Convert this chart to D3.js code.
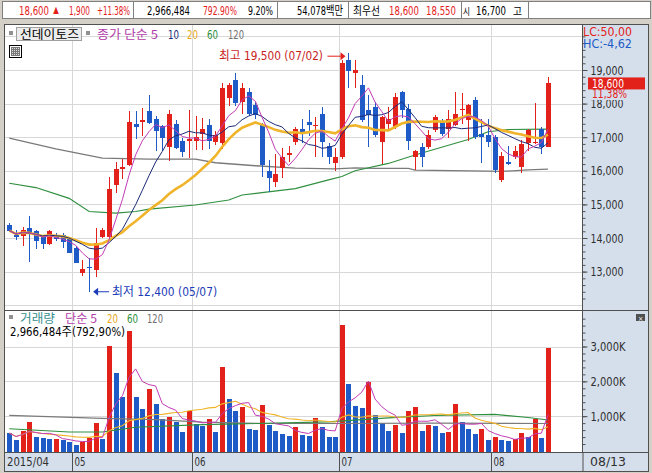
<!DOCTYPE html>
<html><head><meta charset="utf-8">
<script src="https://cdn.jsdelivr.net/npm/d3@7"></script>
<style>
body{margin:0;background:#d4d0c8;overflow:hidden;}
svg{display:block;}
text{font-family:"Liberation Sans Narrow","DejaVu Sans Condensed","Noto Sans CJK KR",sans-serif;}
</style></head><body>
<svg id="c" width="652" height="473"></svg>
<script>
// ---------- data ----------
const dates = ["04/17","04/20","04/21","04/22","04/23","04/24","04/27","04/28","04/29","04/30",
"05/04","05/06","05/07","05/08","05/11","05/12","05/13","05/14","05/15","05/18","05/19","05/20","05/21","05/22","05/26","05/27","05/28","05/29",
"06/01","06/02","06/03","06/04","06/05","06/08","06/09","06/10","06/11","06/12","06/15","06/16","06/17","06/18","06/19","06/22","06/23","06/24","06/25","06/26","06/29","06/30",
"07/01","07/02","07/03","07/06","07/07","07/08","07/09","07/10","07/13","07/14","07/15","07/16","07/17","07/20","07/21","07/22","07/23","07/24","07/27","07/28","07/29","07/30","07/31",
"08/03","08/04","08/05","08/06","08/07","08/10","08/11","08/12","08/13"];
const opens  = [14400,14100,14070,14300,14210,14050,13830,14090,14090,13960,13690,12950,13150,13050,14040,14040,15590,16040,16170,17390,17440,17770,17540,17330,16700,17390,16890,16900,16890,17100,17360,16870,16820,18160,18700,18050,18350,17950,17350,15990,15680,16070,16480,16860,17230,17460,17350,17690,16740,16240,16420,19300,18900,18550,17810,17890,16870,17380,17300,18350,17830,16420,16720,16700,17220,17460,17230,17370,17800,17520,18110,17090,17070,17000,15730,16260,16420,16120,16830,16830,17230,16700];
const highs  = [14450,14240,14320,14650,14240,14090,14240,14160,14140,14020,13760,13340,13390,14290,14290,15830,16250,16350,17770,17780,17880,18250,17640,17360,17810,17510,16970,17800,17640,17560,17530,17170,18620,18620,18920,18600,18450,18060,17430,16330,16490,16670,16740,17300,17530,17810,17610,17900,16820,16670,19300,19500,19300,18850,18260,18050,17620,17910,18320,18370,18000,16610,16820,17220,17660,17530,17800,18350,18330,18000,18210,17550,17530,17060,16570,16740,16740,16910,17250,18030,17310,18800];
const lows   = [14170,13940,13760,13280,13660,13680,13790,13920,13690,13540,13250,12870,12400,12830,14000,13990,15350,15750,16150,16950,17050,17380,16600,16580,16280,16640,16400,16380,16620,16620,16640,16770,16640,17930,17930,17700,17630,17550,15830,15380,15530,15780,16270,16780,16820,17040,16420,16420,16200,15980,16350,18450,18450,17460,16700,17000,16200,17220,17250,17560,16620,16020,16100,16650,17150,17050,16980,17320,17380,16880,16950,16240,16700,15940,15680,16180,16360,15940,16600,16800,16500,16700];
const closes = [14220,14020,14240,14130,13920,13830,14210,13980,13880,13560,13270,13080,13110,13840,14240,15450,16060,16120,17460,17290,17520,17430,17195,16990,17690,16670,16570,16950,17020,17240,16890,17070,18450,18550,18010,18450,17680,17660,16170,15780,15900,16410,16520,17230,17100,17360,17370,16870,16400,16420,19200,18980,19000,17500,17660,17070,17590,17530,18200,17800,16890,16600,16420,17070,17590,17100,17530,17690,17830,17960,17000,17000,16870,16020,16440,16190,16590,16800,17220,16870,16700,18600];
const volumes = [517,314,584,836,401,372,345,352,314,256,179,256,372,797,343,3009,2227,1550,3444,1550,1212,1770,1360,910,990,845,550,1155,768,725,910,550,2400,1502,1150,1250,645,600,1330,758,585,488,440,681,469,440,942,700,411,392,3620,1910,1300,1232,1978,1034,816,574,748,525,1155,1271,574,748,730,507,536,1335,835,642,497,642,322,405,318,284,332,516,400,932,381,2966];
// long moving averages: [candle index, value]
const ma60Price  = [[0,15630],[4,15500],[9,15180],[12,14790],[16,14740],[19,14790],[21,14860],[28,14980],[33,15130],[35,15280],[38,15350],[43,15470],[48,15730],[50,15830],[52,16000],[57,16220],[61,16470],[65,16700],[69,16930],[72,17160],[75,17230],[81,17240]];
const ma120Price = [[0,16970],[7,16650],[14,16380],[21,16350],[28,16350],[31,16240],[37,16150],[43,16080],[49,16060],[52,16090],[55,16070],[60,16070],[61,16020],[72,15990],[74,15980],[78,16030],[81,16050]];
const ma60Vol  = [[0,640],[9,546],[14,546],[19,680],[29,758],[48,836],[57,952],[64,1020],[73,1050],[78,960],[81,890]];
const ma120Vol = [[0,1020],[14,935],[22,900],[29,830],[38,790],[48,790],[64,800],[81,790]];
const priceTicks = [13000,14000,15000,16000,17000,18000,19000];
const priceGrid = [12000,13000,14000,15000,16000,17000,18000,19000,20000];
const volTicks = [1000,2000,3000];
const monthStarts = [{i:10,label:"05"},{i:28,label:"06"},{i:50,label:"07"},{i:73,label:"08"}];

const RED="#e3211b", BLUE="#1e5bc6";
const KR="'Noto Sans CJK KR',sans-serif";
const svg = d3.select("#c");
function T(g,xx,yy,t,c,w,fs,ff){const e=g.append("text").attr("x",xx).attr("y",yy).attr("fill",c).attr("font-size",fs||12).text(t);
  if(ff) e.attr("font-family",ff);
  if(w){e.attr("textLength",w).attr("lengthAdjust","spacingAndGlyphs");} return e;}
// one text element holding several positioned runs
function M(g,parts){const e=g.append("text");
  parts.forEach(p=>{const s=e.append("tspan").attr("x",p[0]).attr("y",p[1]).attr("fill",p[3]).attr("font-size",p[5]||12).text(p[2]);
    if(p[6]) s.attr("font-family",p[6]);
    if(p[4]) s.attr("textLength",p[4]).attr("lengthAdjust","spacingAndGlyphs");});
  return e;}

// ---------- frame ----------
svg.append("rect").attr("width",652).attr("height",473).attr("fill","#d4d0c8");
const hdr = svg.append("g");
hdr.append("rect").attr("x",2.5).attr("y",1.5).attr("width",648).attr("height",17).attr("fill","#fff").attr("stroke","#808080");
[133,277,348,461].forEach(xx=>hdr.append("line").attr("x1",xx+.5).attr("x2",xx+.5).attr("y1",1).attr("y2",19).attr("stroke","#808080"));
hdr.append("line").attr("x1",528.5).attr("x2",528.5).attr("y1",1).attr("y2",19).attr("stroke","#808080");
const HY=14.5, HF=12.5;
M(hdr,[[19,HY,"18,600",RED,30,HF],[53,HY-0.5,"▲",RED,6,9,KR],[69,HY,"1,900",RED,21,HF],[97,HY,"+11.38%",RED,33,HF]]);
M(hdr,[[147,HY,"2,966,484","#000",43,HF],[203,HY,"792.90%",RED,34,HF],[248,HY,"9.20%","#000",25,HF]]);
M(hdr,[[297,HY,"54,078백만","#000",46,HF]]);
M(hdr,[[353,HY,"최우선","#000",27,11,KR],[389,HY,"18,600",RED,30,HF],[426,HY,"18,550",RED,30,HF]]);
M(hdr,[[463,HY,"시","#000",7,10,KR],[476,HY,"16,700","#000",30,HF],[513,HY,"고","#000",9,10,KR]]);

svg.append("rect").attr("x",5).attr("y",25).attr("width",577).attr("height",427).attr("fill","#fff");
svg.append("rect").attr("x",582).attr("y",25).attr("width",66).attr("height",427).attr("fill","#d5dfec");
svg.append("rect").attr("x",5).attr("y",452).attr("width",643).attr("height",19).attr("fill","#d5dfec");

// ---------- scales ----------
const x = d3.scaleLinear().domain([0,81]).range([9.3,548]);
const yP = d3.scaleLinear().domain([12000,20000]).range([305.2,36.4]);
const yV = d3.scaleLinear().domain([0,3000]).range([451,346.5]);
const step = x(1)-x(0);

const grid = svg.append("g").attr("stroke","#d8d8d8").attr("shape-rendering","crispEdges");
priceGrid.forEach(v=>grid.append("line").attr("x1",5).attr("x2",582).attr("y1",Math.round(yP(v))+.5).attr("y2",Math.round(yP(v))+.5));
volTicks.forEach(v=>grid.append("line").attr("x1",5).attr("x2",582).attr("y1",Math.round(yV(v))+.5).attr("y2",Math.round(yV(v))+.5));
monthStarts.forEach(m=>{const xx=Math.round(x(m.i)-step/2)+.5;grid.append("line").attr("x1",xx).attr("x2",xx).attr("y1",25).attr("y2",452);});

function sma(arr,n){return arr.map((d,i)=>d3.mean(arr.slice(Math.max(0,i-n+1),i+1)));}
const lineP = d3.line().x((d,i)=>x(i)).y(d=>yP(d));
const linePts = d3.line().x(d=>x(d[0])).y(d=>yP(d[1]));
const lineV = d3.line().x((d,i)=>x(i)).y(d=>yV(d));
const lineVPts = d3.line().x(d=>x(d[0])).y(d=>yV(d[1]));

svg.append("clipPath").attr("id","pc").append("rect").attr("x",5).attr("y",25).attr("width",577).attr("height",283);
const pp = svg.append("g").attr("clip-path","url(#pc)");
pp.append("path").attr("d",linePts(ma120Price)).attr("fill","none").attr("stroke","#7a7a7a").attr("stroke-width",1.3);
pp.append("path").attr("d",linePts(ma60Price)).attr("fill","none").attr("stroke","#2f8f3f").attr("stroke-width",1.1);

const cg = pp.append("g").attr("shape-rendering","crispEdges");
closes.forEach((c,i)=>{
  const o=opens[i], up=c>=o, col=up?RED:BLUE, cx=Math.round(x(i));
  cg.append("line").attr("x1",cx+.5).attr("x2",cx+.5).attr("y1",yP(highs[i])).attr("y2",yP(lows[i])).attr("stroke",col);
  const t=yP(Math.max(o,c)), b=yP(Math.min(o,c));
  cg.append("rect").attr("x",cx-2).attr("y",t).attr("width",5).attr("height",Math.max(1,b-t)).attr("fill",col);
});
pp.append("path").attr("d",lineP(sma(closes,20))).attr("fill","none").attr("stroke","#f0b42a").attr("stroke-width",2.6);
pp.append("path").attr("d",lineP(sma(closes,10))).attr("fill","none").attr("stroke","#1c2a78").attr("stroke-width",1);
pp.append("path").attr("d",lineP(sma(closes,5))).attr("fill","none").attr("stroke","#c23cb4").attr("stroke-width",1);

svg.append("clipPath").attr("id","vc").append("rect").attr("x",5).attr("y",311).attr("width",577).attr("height",141);
const vp = svg.append("g").attr("clip-path","url(#vc)");
const vg = vp.append("g").attr("shape-rendering","crispEdges");
volumes.forEach((v,i)=>{
  const col = (i>0 && v>volumes[i-1])?RED:BLUE, cx=Math.round(x(i));
  vg.append("rect").attr("x",cx-2).attr("y",yV(v)).attr("width",5).attr("height",yV(0)-yV(v)+1).attr("fill",col);
});
vp.append("path").attr("d",lineVPts(ma120Vol)).attr("fill","none").attr("stroke","#7a7a7a").attr("stroke-width",1.2);
vp.append("path").attr("d",lineVPts(ma60Vol)).attr("fill","none").attr("stroke","#2f8f3f").attr("stroke-width",1.1);
vp.append("path").attr("d",lineV(sma(volumes,20))).attr("fill","none").attr("stroke","#f0b42a").attr("stroke-width",1.1);
vp.append("path").attr("d",lineV(sma(volumes,5))).attr("fill","none").attr("stroke","#c23cb4").attr("stroke-width",1);

const bd = svg.append("g").attr("stroke","#505050").attr("shape-rendering","crispEdges");
bd.append("line").attr("x1",4.5).attr("x2",4.5).attr("y1",24).attr("y2",472);
bd.append("line").attr("x1",4).attr("x2",649).attr("y1",24.5).attr("y2",24.5);
bd.append("line").attr("x1",5).attr("x2",649).attr("y1",310.5).attr("y2",310.5);
bd.append("line").attr("x1",5).attr("x2",649).attr("y1",452.5).attr("y2",452.5);
bd.append("line").attr("x1",4).attr("x2",649).attr("y1",471.5).attr("y2",471.5);
bd.append("line").attr("x1",648.5).attr("x2",648.5).attr("y1",24).attr("y2",472);

function styleAxis(g,w){g.select(".domain").attr("stroke","#505050");g.selectAll(".tick line").attr("stroke","#505050");
  g.selectAll("text").attr("fill","#303030").attr("font-size",12.5).attr("font-family",null);
  if(w) g.selectAll("text").attr("textLength",w).attr("lengthAdjust","spacingAndGlyphs");}
const axP = svg.append("g").attr("transform","translate(582.5,0)")
  .call(d3.axisRight(yP).tickValues(priceTicks).tickSize(5).tickPadding(3).tickFormat(d3.format(",")));
styleAxis(axP,33); axP.select(".domain").attr("d","M0,25V310");
const axPm = svg.append("g").attr("transform","translate(582.5,0)")
  .call(d3.axisRight(yP).tickValues(d3.range(12200,20200,200)).tickSize(3).tickFormat(""));
styleAxis(axPm); axPm.select(".domain").remove();
const axV = svg.append("g").attr("transform","translate(582.5,0)")
  .call(d3.axisRight(yV).tickValues(volTicks).tickSize(5).tickPadding(3).tickFormat(d=>d3.format(",")(d)+"K"));
styleAxis(axV,35); axV.select(".domain").attr("d","M0,311V452");
const axVm = svg.append("g").attr("transform","translate(582.5,0)")
  .call(d3.axisRight(yV).tickValues(d3.range(200,4000,200)).tickSize(3).tickFormat(""));
styleAxis(axVm); axVm.select(".domain").remove();
axVm.selectAll(".tick").filter(d=>yV(d)<313).remove();

// current price tag (covers most of the 18,000 label as in the original)
const tag = svg.append("g");
tag.append("rect").attr("x",587).attr("y",88).attr("width",58).attr("height",12).attr("fill","#d5dfec");
const ty = yP(closes[81]);
tag.append("rect").attr("x",588).attr("y",ty-6).attr("width",57).attr("height",12).attr("fill",RED);
M(tag,[[592,ty+4.5,d3.format(",")(closes[81]),"#fff",32,12.5],[592,97.5,"11,38%",RED,35,12.5]]);
M(svg,[[583,35.5,"LC:50,00",RED,49,12.5],[583,48,"HC:-4,62",BLUE,49,12.5]]);

const lg = svg.append("g");
lg.append("rect").attr("x",9).attr("y",31).attr("width",4).attr("height",4).attr("fill","#909090");
lg.append("rect").attr("x",16.5).attr("y",27.5).attr("width",65).attr("height",13).attr("fill","#ececec").attr("stroke","#a0a0a0");
T(lg,20,38.5,"선데이토즈","#000",59,12,KR);
lg.append("rect").attr("x",86).attr("y",31).attr("width",4).attr("height",4).attr("fill","#909090");
M(lg,[[97,38.5,"종가 단순 5","#b03ca8",61,12,KR],[168,38.5,"10","#1c2a78",11,12.5],[187,38.5,"20","#e8a820",11,12.5],[207,38.5,"60","#2f8f3f",11,12.5],[228,38.5,"120","#707070",16,12.5]]);
const ic = svg.append("g").attr("shape-rendering","crispEdges");
ic.append("rect").attr("x",9.5).attr("y",45.5).attr("width",12).attr("height",12).attr("fill","#fff").attr("stroke","#000");
ic.append("rect").attr("x",11.5).attr("y",47.5).attr("width",8).attr("height",8).attr("fill","#e0e0e0").attr("stroke","#777");
[13.5,15.5,17.5].forEach(v=>ic.append("line").attr("x1",v).attr("x2",v).attr("y1",48).attr("y2",55).attr("stroke","#777"));
[49.5,51.5,53.5].forEach(v=>ic.append("line").attr("x1",12).attr("x2",19).attr("y1",v).attr("y2",v).attr("stroke","#777"));

const vl = svg.append("g");
vl.append("rect").attr("x",9).attr("y",315).attr("width",4).attr("height",4).attr("fill","#909090");
M(vl,[[20,323,"거래량","#3a8f8f",35,12,KR],[65,323,"단순 5","#b03ca8",32,12,KR],[107,323,"20","#e8a820",11,12.5],[127,323,"60","#2f8f3f",11,12.5],[147,323,"120","#707070",16,12.5],
      [10,335.5,"2,966,484주(792,90%)","#000",115,12.5]]);
svg.append("rect").attr("x",636).attr("y",314).attr("width",9).attr("height",7).attr("fill","#505050");
T(svg,638,320.5,"×","#fff",null,7);

const hiIdx = d3.maxIndex(highs), loIdx = d3.minIndex(lows);
const an = svg.append("g");
const hy = yP(highs[hiIdx])+3;
T(an,219,hy+4,`최고 ${d3.format(",")(highs[hiIdx])} (${dates[hiIdx]})`,"#c81e1e",104,12.5);
an.append("line").attr("x1",x(hiIdx)-21).attr("x2",x(hiIdx)-7).attr("y1",hy).attr("y2",hy).attr("stroke",RED);
an.append("path").attr("d",`M${x(hiIdx)-8},${hy-4}L${x(hiIdx)-3},${hy}L${x(hiIdx)-8},${hy+4}Z`).attr("fill",RED);
const ly = yP(lows[loIdx]);
an.append("path").attr("d",`M${x(loIdx)+4},${ly}L${x(loIdx)+9},${ly-4}L${x(loIdx)+9},${ly+4}Z`).attr("fill","#1c3cb8");
an.append("line").attr("x1",x(loIdx)+8).attr("x2",x(loIdx)+20).attr("y1",ly).attr("y2",ly).attr("stroke","#1c3cb8");
T(an,x(loIdx)+23,ly+4.5,`최저 ${d3.format(",")(lows[loIdx])} (${dates[loIdx]})`,"#1c3cb8",105,12.5);

const da = svg.append("g");
T(da,7,466,"2015/04","#303030",42,12.5);
monthStarts.forEach(m=>{
  const xx=Math.round(x(m.i)-step/2)+.5;
  da.append("line").attr("x1",xx).attr("x2",xx).attr("y1",453).attr("y2",471).attr("stroke","#505050");
  T(da,xx+2,466,m.label,"#303030",11,12.5);
});
da.append("line").attr("x1",583).attr("x2",583).attr("y1",453).attr("y2",471).attr("stroke","#505050");
T(da,590,466,dates[81],"#303030",36,12.5);
</script>
</body></html>
